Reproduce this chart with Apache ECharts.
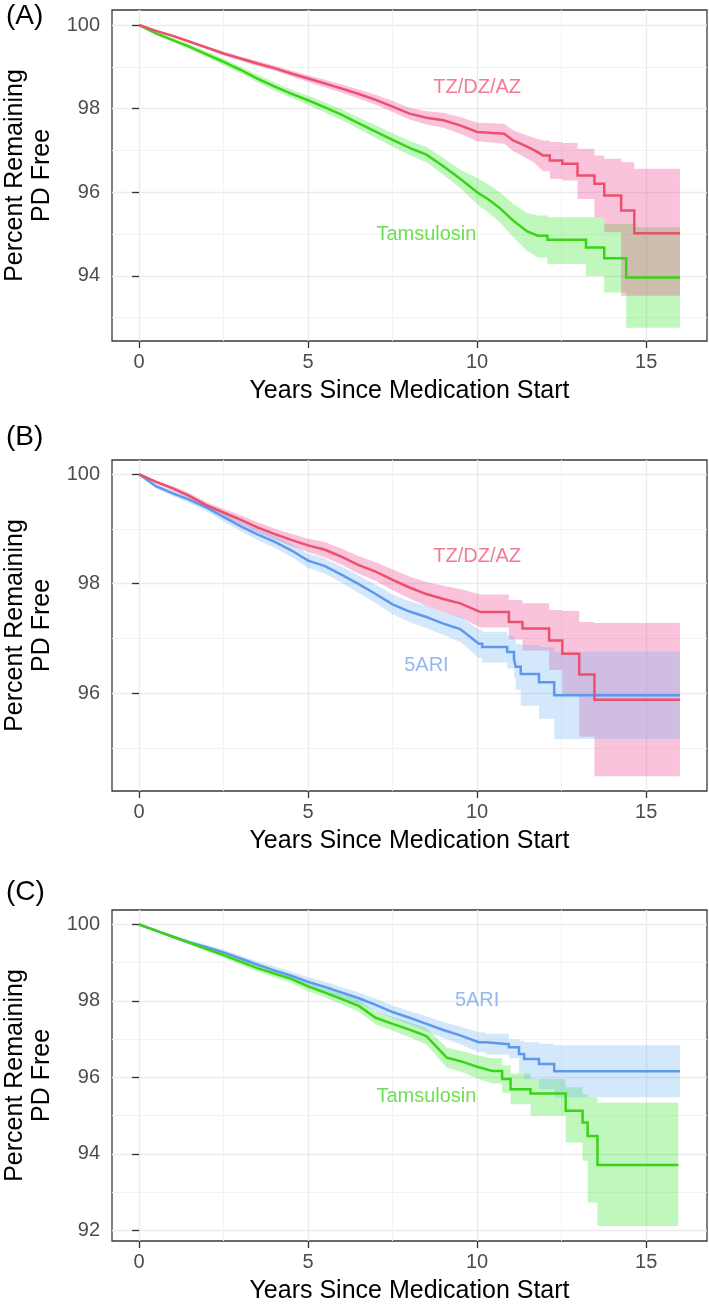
<!DOCTYPE html>
<html><head><meta charset="utf-8">
<script src="https://cdn.jsdelivr.net/npm/echarts@6/dist/echarts.min.js"></script>
<style>html,body{margin:0;padding:0;background:#fff}#chart{width:709px;height:1305px}</style>
</head><body><div id="chart"></div>
<script>
// ---------- tick labels ----------
const xTicks = [0, 5, 10, 15];
const yTicksA = [94, 96, 98, 100];
const yTicksB = [96, 98, 100];
const yTicksC = [92, 94, 96, 98, 100];

// ---------- Panel A ----------
const A_TZ_t  = [0,0.5,1,1.5,2,2.5,3,3.5,4,4.5,5,5.5,6,6.5,7,7.5,8,8.5,9,9.5,10,10.8,11.07,11.4,11.7,11.95,12.15,12.52,12.97,13.47,13.76,14.26,14.65,16];
const A_TZ_s  = [100,99.86,99.74,99.6,99.46,99.32,99.2,99.08,98.97,98.84,98.72,98.6,98.48,98.35,98.21,98.05,97.88,97.78,97.72,97.6,97.44,97.4,97.24,97.12,97.0,96.88,96.76,96.68,96.4,96.2,95.92,95.56,95.02,95.02];
const A_TZ_hi = [100,99.88,99.77,99.63,99.5,99.37,99.25,99.14,99.03,98.91,98.8,98.69,98.58,98.46,98.33,98.18,98.02,97.94,97.9,97.8,97.66,97.64,97.48,97.38,97.3,97.24,97.2,97.18,97.04,96.88,96.8,96.72,96.56,96.56];
const A_TZ_lo = [100,99.84,99.71,99.57,99.42,99.27,99.15,99.02,98.91,98.77,98.64,98.51,98.38,98.24,98.09,97.92,97.74,97.62,97.54,97.4,97.22,97.16,96.98,96.84,96.7,96.5,96.32,96.28,95.84,95.4,95.04,93.52,93.52,93.52];

const A_TAM_t  = [0,0.5,1,1.5,2,2.5,3,3.5,4,4.5,5,5.5,6,6.5,7,7.5,8,8.5,9,9.5,10,10.35,10.67,11.07,11.48,11.8,12.08,13.22,13.76,14.41,14.65,16];
const A_TAM_s  = [100,99.8,99.64,99.48,99.3,99.12,98.93,98.72,98.53,98.36,98.2,98.03,97.85,97.65,97.45,97.25,97.06,96.9,96.62,96.32,96.0,95.82,95.62,95.32,95.06,94.96,94.86,94.68,94.42,93.96,93.96,93.96];
const A_TAM_hi = [100,99.84,99.69,99.54,99.37,99.2,99.01,98.81,98.63,98.46,98.31,98.15,97.98,97.79,97.6,97.41,97.23,97.08,96.82,96.54,96.34,96.18,96.0,95.72,95.5,95.44,95.4,95.4,95.24,95.24,95.16,95.16];
const A_TAM_lo = [100,99.76,99.59,99.42,99.23,99.04,98.85,98.63,98.43,98.26,98.09,97.91,97.72,97.51,97.3,97.09,96.89,96.72,96.42,96.1,95.72,95.5,95.28,94.92,94.6,94.44,94.28,94.0,93.6,92.76,92.76,92.76];

// ---------- Panel B ----------
const B_TZ_t  = [0,0.5,1,1.5,2,2.5,3,3.5,4,4.5,5,5.5,6,6.5,7,7.5,8,8.5,9,9.5,10.1,10.94,11.34,12.13,12.52,13.02,13.47,16];
const B_TZ_s  = [100,99.86,99.74,99.6,99.43,99.3,99.17,99.03,98.91,98.8,98.7,98.62,98.49,98.34,98.22,98.07,97.93,97.81,97.72,97.64,97.48,97.3,97.18,96.96,96.72,96.34,95.88,95.88];
const B_TZ_hi = [100,99.89,99.78,99.65,99.49,99.37,99.25,99.12,99.01,98.91,98.82,98.76,98.64,98.5,98.39,98.26,98.13,98.03,97.96,97.9,97.8,97.7,97.64,97.52,97.5,97.3,97.28,97.28];
const B_TZ_lo = [100,99.83,99.7,99.55,99.37,99.23,99.09,98.94,98.81,98.69,98.58,98.48,98.34,98.18,98.05,97.88,97.73,97.59,97.48,97.38,97.2,96.98,96.78,96.42,95.95,95.2,94.48,94.48];

const B_ARI_t  = [0,0.5,1,1.5,2,2.5,3,3.5,4,4.5,5,5.5,6,6.5,7,7.5,8,8.5,9,9.5,10.05,10.15,10.89,11.09,11.14,11.29,11.83,12.28,16];
const B_ARI_s  = [100,99.78,99.65,99.53,99.39,99.22,99.05,98.9,98.77,98.61,98.42,98.32,98.16,97.99,97.81,97.62,97.49,97.39,97.27,97.17,96.9,96.84,96.75,96.63,96.48,96.35,96.2,95.96,95.96];
const B_ARI_hi = [100,99.82,99.7,99.59,99.46,99.3,99.14,99.0,98.88,98.73,98.55,98.46,98.31,98.15,97.98,97.8,97.68,97.59,97.48,97.4,97.16,97.12,97.05,96.98,96.9,96.88,96.84,96.76,96.76];
const B_ARI_lo = [100,99.74,99.6,99.47,99.32,99.14,98.96,98.8,98.66,98.49,98.29,98.18,98.01,97.83,97.64,97.44,97.3,97.19,97.06,96.94,96.64,96.56,96.45,96.28,96.06,95.77,95.53,95.16,95.16];

// ---------- Panel C ----------
const C_ARI_t  = [0,0.5,1,1.5,2,2.5,3,3.5,4,4.5,5,5.5,6,6.5,7,7.5,8,8.5,9,9.5,10.05,10.25,10.94,11.24,11.39,11.83,12.28,16];
const C_ARI_s  = [100,99.84,99.68,99.53,99.41,99.27,99.11,98.95,98.8,98.66,98.5,98.37,98.22,98.07,97.9,97.71,97.56,97.4,97.24,97.1,96.92,96.87,96.79,96.61,96.48,96.35,96.16,96.16];
const C_ARI_hi = [100,99.87,99.72,99.58,99.47,99.34,99.19,99.04,98.9,98.77,98.62,98.5,98.36,98.22,98.06,97.88,97.74,97.6,97.45,97.33,97.18,97.14,97.0,96.96,96.92,96.88,96.84,96.84];
const C_ARI_lo = [100,99.81,99.64,99.48,99.35,99.2,99.03,98.86,98.7,98.55,98.38,98.24,98.08,97.92,97.74,97.54,97.38,97.2,97.03,96.87,96.66,96.6,96.5,96.1,95.95,95.7,95.48,95.48];

const C_TAM_t  = [0,0.5,1,1.5,2,2.5,3,3.5,4,4.5,5,5.5,6,6.5,7,7.5,8,8.5,8.8,9.1,9.6,10,10.45,10.74,10.99,11.58,12.62,13.12,13.27,13.56,15.95];
const C_TAM_s  = [100,99.84,99.68,99.52,99.36,99.2,99.03,98.86,98.72,98.58,98.38,98.22,98.05,97.87,97.56,97.4,97.25,97.08,96.8,96.52,96.4,96.28,96.17,95.96,95.69,95.58,95.13,94.82,94.47,93.71,93.71];
const C_TAM_hi = [100,99.87,99.72,99.57,99.42,99.27,99.11,98.95,98.82,98.69,98.5,98.35,98.19,98.02,97.73,97.58,97.45,97.3,97.04,96.78,96.68,96.58,96.5,96.32,96.1,95.96,95.74,95.55,95.48,95.34,95.34];
const C_TAM_lo = [100,99.81,99.64,99.47,99.3,99.13,98.95,98.77,98.62,98.47,98.26,98.09,97.91,97.72,97.39,97.22,97.05,96.86,96.56,96.26,96.12,95.98,95.84,95.6,95.3,95.0,94.3,93.82,92.73,92.11,92.11];

// year from which each curve is drawn as distinct Kaplan-Meier steps
const A_TZ_stepFrom = 11.9, A_TAM_stepFrom = 11.5;
const B_TZ_stepFrom = 10.0, B_ARI_stepFrom = 10.0;
const C_ARI_stepFrom = 10.0, C_TAM_stepFrom = 10.4;

// ---------- group names ----------
const NAME_TZ = 'TZ/DZ/AZ';
const NAME_TAM = 'Tamsulosin';
const NAME_ARI = '5ARI';

// ---------- styles ----------
const FONT = '"Liberation Sans", Arial, Helvetica, sans-serif';
const COL = {
  tz:  {line: '#EE4F6C', band: '#EB378A', text: '#F05A7A'},
  tam: {line: '#37D516', band: '#30E420', text: '#45DA22'},
  ari: {line: '#5E97EE', band: '#6CB2F2', text: '#7AA6EE'}
};

// Build a KM path: quasi-continuous (linear) before stepFrom, horizontal-then-vertical steps after.
function kmPath(t, s, stepFrom) {
  const out = [];
  for (let j = 0; j < t.length; j++) {
    if (j > 0 && t[j - 1] >= stepFrom) out.push([t[j], s[j - 1]]);
    out.push([t[j], s[j]]);
  }
  return out;
}

const panels = [
  { label: '(A)', labelTop: 2, top: 10, yMin: 92.44, yMax: 100.36, yTicks: yTicksA,
    bands: [[A_TAM_t, A_TAM_lo, A_TAM_hi, A_TAM_stepFrom, COL.tam], [A_TZ_t, A_TZ_lo, A_TZ_hi, A_TZ_stepFrom, COL.tz]],
    lines: [[A_TAM_t, A_TAM_s, A_TAM_stepFrom, COL.tam], [A_TZ_t, A_TZ_s, A_TZ_stepFrom, COL.tz]],
    notes: [[NAME_TZ, 10, 98.5, COL.tz], [NAME_TAM, 8.5, 95.0, COL.tam]] },
  { label: '(B)', labelTop: 423, top: 460, yMin: 94.21, yMax: 100.26, yTicks: yTicksB,
    bands: [[B_TZ_t, B_TZ_lo, B_TZ_hi, B_TZ_stepFrom, COL.tz], [B_ARI_t, B_ARI_lo, B_ARI_hi, B_ARI_stepFrom, COL.ari]],
    lines: [[B_ARI_t, B_ARI_s, B_ARI_stepFrom, COL.ari], [B_TZ_t, B_TZ_s, B_TZ_stepFrom, COL.tz]],
    notes: [[NAME_TZ, 10, 98.5, COL.tz], [NAME_ARI, 8.5, 96.5, COL.ari]] },
  { label: '(C)', labelTop: 878, top: 910, yMin: 91.72, yMax: 100.38, yTicks: yTicksC,
    bands: [[C_TAM_t, C_TAM_lo, C_TAM_hi, C_TAM_stepFrom, COL.tam], [C_ARI_t, C_ARI_lo, C_ARI_hi, C_ARI_stepFrom, COL.ari]],
    lines: [[C_ARI_t, C_ARI_s, C_ARI_stepFrom, COL.ari], [C_TAM_t, C_TAM_s, C_TAM_stepFrom, COL.tam]],
    notes: [[NAME_ARI, 10, 98.0, COL.ari], [NAME_TAM, 8.5, 95.5, COL.tam]] }
];

const grids = [], xAxes = [], yAxes = [], series = [], titles = [];
panels.forEach((p, i) => {
  grids.push({ left: 112, top: p.top, width: 595, height: 331, show: true,
    borderColor: '#3a3a3a', borderWidth: 1.3, backgroundColor: '#fff',
    containLabel: false, outerBoundsMode: 'none' });
  titles.push({ text: p.label, left: 6, top: p.labelTop, padding: 0,
    textStyle: { fontSize: 28, fontWeight: 'normal', color: '#000', fontFamily: FONT } });
  xAxes.push({ gridIndex: i, type: 'value', min: -0.8, max: 16.8, splitNumber: 4,
    axisLine: { show: false },
    axisTick: { show: true, length: 7, customValues: xTicks, lineStyle: { color: '#333', width: 1.3 } },
    axisLabel: { customValues: xTicks, color: '#4D4D4D', fontSize: 20, fontFamily: FONT, margin: 11 },
    splitLine: { show: true, lineStyle: { color: '#EBEBEB', width: 1.4 } },
    minorTick: { show: false, splitNumber: 2 },
    minorSplitLine: { show: true, lineStyle: { color: '#F3F3F3', width: 1 } },
    name: 'Years Since Medication Start', nameLocation: 'middle', nameGap: 38,
    nameTextStyle: { fontSize: 25, color: '#000', fontFamily: FONT } });
  yAxes.push({ gridIndex: i, type: 'value', min: p.yMin, max: p.yMax, splitNumber: i === 1 ? 3 : 4,
    axisLine: { show: false },
    axisTick: { show: true, length: 7, customValues: p.yTicks, lineStyle: { color: '#333', width: 1.3 } },
    axisLabel: { customValues: p.yTicks, color: '#4D4D4D', fontSize: 20, fontFamily: FONT, margin: 12 },
    splitLine: { show: true, lineStyle: { color: '#EBEBEB', width: 1.4 } },
    minorTick: { show: false, splitNumber: 2 },
    minorSplitLine: { show: true, lineStyle: { color: '#F3F3F3', width: 1 } },
    name: 'Percent Remaining\nPD Free', nameLocation: 'middle', nameGap: 54,
    nameTextStyle: { fontSize: 25, lineHeight: 27, color: '#000', fontFamily: FONT, align: 'center' } });

  p.bands.forEach(([t, lo, hi, stepFrom, c]) => {
    const upPath = kmPath(t, hi, stepFrom);
    const loPath = kmPath(t, lo, stepFrom);
    series.push({ type: 'custom', xAxisIndex: i, yAxisIndex: i, silent: true, z: 2,
      data: t.map((x, j) => [x, lo[j], hi[j]]),
      encode: { x: 0, y: [1, 2] },
      renderItem: (params, api) => {
        if (params.dataIndex !== 0) return null;
        const pts = upPath.map(d => api.coord(d)).concat(loPath.slice().reverse().map(d => api.coord(d)));
        return { type: 'polygon', shape: { points: pts }, style: { fill: c.band, opacity: 0.3 } };
      } });
  });
  p.lines.forEach(([t, s, stepFrom, c]) => {
    series.push({ type: 'line', xAxisIndex: i, yAxisIndex: i, symbol: 'none',
      silent: true, z: 3, lineStyle: { color: c.line, width: 2.5, join: 'miter' },
      data: kmPath(t, s, stepFrom) });
  });
  series.push({ type: 'scatter', xAxisIndex: i, yAxisIndex: i, symbolSize: 1, silent: true, z: 4,
    itemStyle: { color: 'rgba(0,0,0,0)' },
    label: { show: true, position: 'inside', formatter: '{b}', fontSize: 20, fontFamily: FONT },
    data: p.notes.map(([name, x, y, c]) => ({ name, value: [x, y], label: { color: c.text } })) });
});

const chart = echarts.init(document.getElementById('chart'), null, { renderer: 'canvas' });
chart.setOption({
  animation: false,
  backgroundColor: '#fff',
  title: titles,
  grid: grids,
  xAxis: xAxes,
  yAxis: yAxes,
  series: series
});
</script>
</body></html>
